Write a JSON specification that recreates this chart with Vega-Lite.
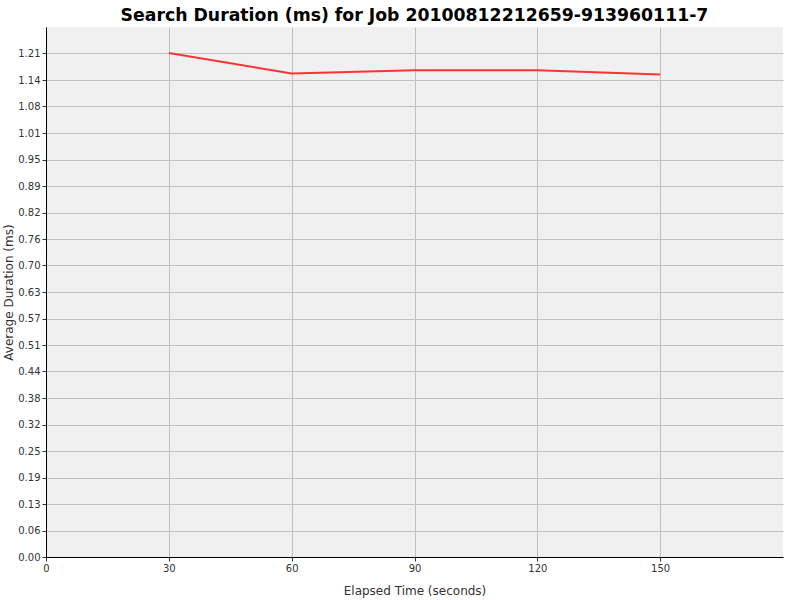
{
  "$schema": "https://vega.github.io/schema/vega-lite/v6.json",
  "autosize": "none",
  "padding": {"left": 46, "top": 27, "right": 17, "bottom": 43},
  "width": 737,
  "height": 530,
  "background": "white",
  "title": {
    "text": "Search Duration (ms) for Job 20100812212659-913960111-7",
    "font": "DejaVu Sans",
    "fontSize": 17.3,
    "fontWeight": "bold",
    "color": "black",
    "anchor": "middle",
    "frame": "group",
    "baseline": "bottom",
    "offset": -15
  },
  "data": {
    "values": [
      {"elapsed": 30, "duration": 1.2065},
      {"elapsed": 60, "duration": 1.1573},
      {"elapsed": 90, "duration": 1.1648},
      {"elapsed": 120, "duration": 1.1652},
      {"elapsed": 150, "duration": 1.1552}
    ]
  },
  "mark": {"type": "line", "color": "#ff3333", "strokeWidth": 2, "interpolate": "linear"},
  "encoding": {
    "x": {
      "field": "elapsed",
      "type": "quantitative",
      "title": "Elapsed Time (seconds)",
      "scale": {"domain": [0, 180], "nice": false, "zero": true},
      "axis": {"values": [0, 30, 60, 90, 120, 150], "format": "d"}
    },
    "y": {
      "field": "duration",
      "type": "quantitative",
      "title": "Average Duration (ms)",
      "scale": {"domain": [0, 1.2686], "nice": false},
      "axis": {
        "values": [0, 0.06343, 0.12686, 0.19029, 0.25372, 0.31715, 0.38058, 0.44401, 0.50744, 0.57087, 0.6343, 0.69773, 0.76116, 0.82459, 0.88802, 0.95145, 1.01488, 1.07831, 1.14174, 1.20517],
        "format": ".2f"
      }
    }
  },
  "config": {
    "view": {"fill": "#f0f0f0", "stroke": null},
    "axis": {
      "labelFont": "DejaVu Sans",
      "labelFontSize": 10,
      "labelColor": "#333333",
      "titleFont": "DejaVu Sans",
      "titleFontSize": 12,
      "titleFontWeight": "normal",
      "titleColor": "#333333",
      "domainColor": "black",
      "domainWidth": 1,
      "tickColor": "#333333",
      "tickSize": 4,
      "labelPadding": 2,
      "gridColor": "#c0c0c0",
      "gridWidth": 1,
      "gridOpacity": 1
    },
    "axisX": {"titlePadding": 12, "labelFlush": false},
    "axisY": {"titlePadding": 2, "labelFlush": false}
  }
}
